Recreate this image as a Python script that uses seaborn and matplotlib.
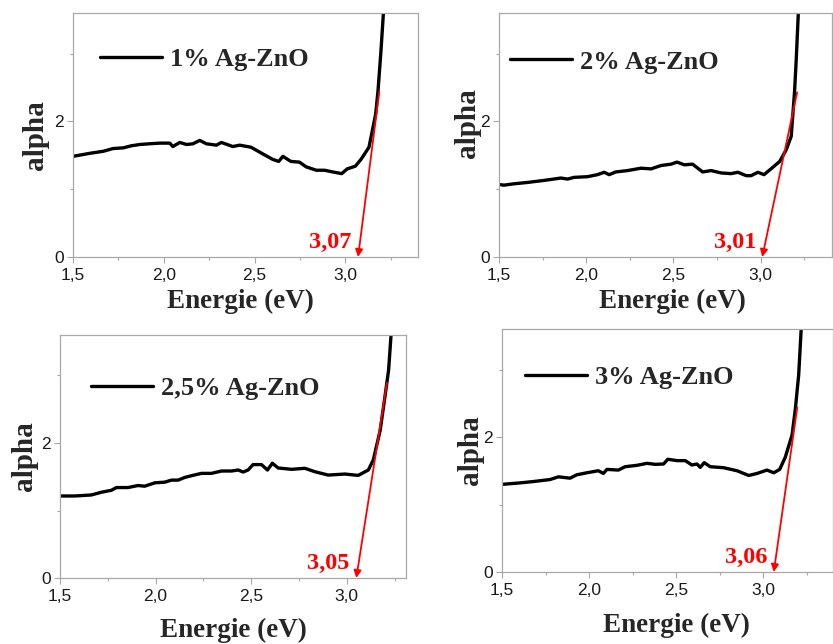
import matplotlib
matplotlib.use("Agg")
import matplotlib.pyplot as plt
from matplotlib.ticker import FixedLocator, FuncFormatter
import seaborn as sns
import pandas as pd

# Absorption curves (photon energy in eV vs. alpha) for each Ag doping level
energy_1 = [1.50, 1.593, 1.667, 1.72, 1.776, 1.82, 1.868, 1.92, 1.978, 2.033, 2.05, 2.088,
            2.125, 2.16, 2.198, 2.235, 2.29, 2.317, 2.38, 2.418, 2.48, 2.546, 2.60, 2.633,
            2.656, 2.70, 2.747, 2.784, 2.84, 2.885, 2.93, 2.98, 3.01, 3.055, 3.086, 3.13,
            3.167, 3.18, 3.196, 3.209, 3.218]
alpha_1 = [1.485, 1.53, 1.56, 1.60, 1.61, 1.64, 1.66, 1.67, 1.68, 1.68, 1.63, 1.69,
           1.66, 1.67, 1.72, 1.67, 1.65, 1.69, 1.63, 1.65, 1.62, 1.52, 1.44, 1.41,
           1.485, 1.41, 1.40, 1.33, 1.28, 1.28, 1.255, 1.23, 1.30, 1.34, 1.44, 1.62,
           2.11, 2.46, 3.04, 3.58, 3.95]

energy_2 = [1.50, 1.529, 1.586, 1.663, 1.759, 1.855, 1.893, 1.931, 2.008, 2.065, 2.103, 2.132,
            2.17, 2.237, 2.314, 2.372, 2.43, 2.487, 2.521, 2.563, 2.61, 2.668, 2.717, 2.774,
            2.83, 2.87, 2.918, 2.946, 2.985, 3.02, 3.06, 3.11, 3.148, 3.176, 3.195, 3.205,
            3.217, 3.222]
alpha_2 = [1.07, 1.06, 1.08, 1.10, 1.13, 1.165, 1.15, 1.175, 1.185, 1.215, 1.25, 1.215,
           1.255, 1.275, 1.31, 1.30, 1.35, 1.37, 1.40, 1.36, 1.37, 1.255, 1.275, 1.24,
           1.23, 1.25, 1.20, 1.20, 1.25, 1.215, 1.30, 1.41, 1.585, 1.78, 2.43, 2.92,
           3.61, 3.95]

energy_3 = [1.507, 1.577, 1.664, 1.716, 1.769, 1.795, 1.856, 1.908, 1.943, 1.996, 2.048, 2.083,
            2.118, 2.153, 2.187, 2.24, 2.292, 2.345, 2.397, 2.432, 2.458, 2.484, 2.51, 2.554,
            2.585, 2.611, 2.641, 2.711, 2.781, 2.833, 2.903, 2.99, 3.06, 3.113, 3.139, 3.175,
            3.20, 3.219, 3.231, 3.236]
alpha_3 = [1.215, 1.215, 1.23, 1.27, 1.30, 1.34, 1.34, 1.37, 1.36, 1.41, 1.42, 1.45,
           1.45, 1.49, 1.515, 1.55, 1.55, 1.585, 1.585, 1.60, 1.57, 1.60, 1.68, 1.68,
           1.60, 1.70, 1.63, 1.61, 1.625, 1.575, 1.525, 1.54, 1.52, 1.60, 1.75, 2.19,
           2.69, 3.08, 3.57, 3.95]

energy_4 = [1.508, 1.603, 1.68, 1.776, 1.824, 1.891, 1.929, 1.987, 2.053, 2.082, 2.102, 2.168,
            2.207, 2.274, 2.332, 2.379, 2.427, 2.452, 2.504, 2.552, 2.59, 2.619, 2.638, 2.661,
            2.695, 2.772, 2.849, 2.916, 2.964, 3.021, 3.06, 3.094, 3.126, 3.165, 3.184, 3.203,
            3.217, 3.222]
alpha_4 = [1.30, 1.32, 1.34, 1.37, 1.41, 1.39, 1.44, 1.47, 1.50, 1.46, 1.52, 1.51,
           1.56, 1.58, 1.61, 1.595, 1.60, 1.67, 1.65, 1.65, 1.585, 1.60, 1.55, 1.62,
           1.56, 1.545, 1.50, 1.43, 1.46, 1.51, 1.47, 1.52, 1.70, 2.03, 2.42, 2.92,
           3.58, 3.95]

sample_labels = ["1% Ag-ZnO", "2% Ag-ZnO", "2,5% Ag-ZnO", "3% Ag-ZnO"]
band_gaps = [3.07, 3.01, 3.05, 3.06]
# tangent start points (energy, alpha) of the band-gap extrapolation lines
tangent_start_e = [3.187, 3.21, 3.21, 3.195]
tangent_start_a = [2.44, 2.43, 2.89, 2.44]

x_ticks = [1.5, 2.0, 2.5, 3.0]
y_ticks = [0, 2]

sns.set_theme(style="ticks")
plt.rcParams["font.family"] = ["Liberation Sans", "DejaVu Sans"]

fig = plt.figure(figsize=(8.33, 6.44), dpi=100)

W, H = 833.0, 644.0
# axes boxes in pixels: left, top, right, bottom
boxes = [(73, 13, 418, 257), (499, 13, 832, 257), (60, 335, 406, 578), (502, 329, 833, 572)]
x_max = [3.40, 3.41, 3.31, 3.40]
ylabel_x = [-0.11, -0.096, -0.104, -0.094]
ylabel_y = [0.50, 0.55, 0.50, 0.50]
xlabel_x = [0.484, 0.52, 0.50, 0.526]
xlabel_y = [-0.184, -0.184, -0.214, -0.218]
legend_anchor = [(0.078, 0.81), (0.033, 0.80), (0.09, 0.78), (0.07, 0.80)]

energies = [energy_1, energy_2, energy_3, energy_4]
alphas = [alpha_1, alpha_2, alpha_3, alpha_4]

serif_bold = dict(family="Liberation Serif", weight="bold")
spine_gray = "#a8a8a8"

for i in range(4):
    l, t, r, b = boxes[i]
    ax = fig.add_axes([l / W, 1 - b / H, (r - l) / W, (b - t) / H])
    df = pd.DataFrame({"Energie": energies[i], "alpha": alphas[i]})
    sns.lineplot(data=df, x="Energie", y="alpha", ax=ax, color="black",
                 linewidth=2.4, label=sample_labels[i], sort=False)

    ax.set_xlim(1.5, x_max[i])
    ax.set_ylim(0, 3.6)

    ax.xaxis.set_major_locator(FixedLocator(x_ticks))
    ax.xaxis.set_minor_locator(FixedLocator([1.75, 2.25, 2.75, 3.25]))
    ax.yaxis.set_major_locator(FixedLocator(y_ticks))
    ax.yaxis.set_minor_locator(FixedLocator([1, 3]))
    ax.xaxis.set_major_formatter(FuncFormatter(lambda v, p: f"{v:.1f}".replace(".", ",")))
    ax.yaxis.set_major_formatter(FuncFormatter(lambda v, p: f"{v:.0f}"))

    ax.tick_params(which="major", length=4, width=0.8, color=spine_gray,
                   labelsize=12.5, labelcolor="#1a1a1a")
    ax.tick_params(which="minor", length=2.5, width=0.8, color=spine_gray)
    ax.tick_params(axis="x", which="major", pad=4)
    ax.tick_params(axis="y", which="major", pad=2.5)
    for side in ["left", "bottom", "top", "right"]:
        ax.spines[side].set_visible(True)
        ax.spines[side].set_color(spine_gray)
        ax.spines[side].set_linewidth(0.9)

    ax.set_xlabel("Energie (eV)", fontsize=19.5, **serif_bold)
    ax.set_ylabel("alpha", fontsize=21, **serif_bold)
    ax.xaxis.label.set_va("center")
    ax.yaxis.label.set_va("center")
    ax.xaxis.set_label_coords(xlabel_x[i], xlabel_y[i])
    ax.yaxis.set_label_coords(ylabel_x[i], ylabel_y[i])

    ax.legend(loc="center left", bbox_to_anchor=legend_anchor[i], frameon=False,
              borderpad=0, borderaxespad=0, handlelength=2.35, handletextpad=0.3,
              prop=dict(family="Liberation Serif", weight="bold", size=19))

    # tangent extrapolation down to the energy axis
    ax.annotate("", xy=(band_gaps[i], 0.0),
                xytext=(tangent_start_e[i], tangent_start_a[i]),
                arrowprops=dict(arrowstyle="-|>", color="red", lw=1.3,
                                mutation_scale=11, shrinkA=0, shrinkB=0),
                annotation_clip=False)
    ax.text(band_gaps[i] - 0.035, 0.13, f"{band_gaps[i]:.2f}".replace(".", ","),
            color="red", fontsize=17.5, ha="right", va="baseline", **serif_bold)

fig.savefig("out.png", dpi=100)
